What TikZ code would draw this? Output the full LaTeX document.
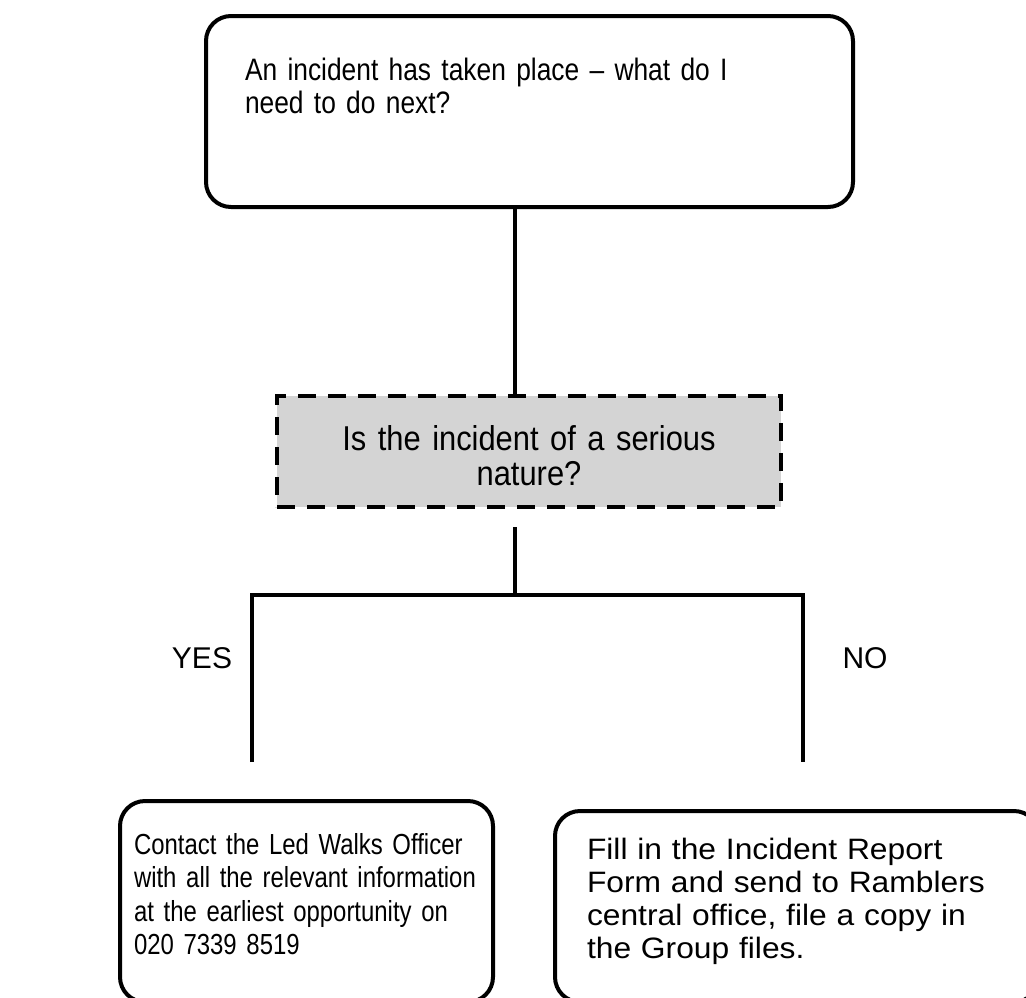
\documentclass[tikz,border=0pt]{standalone}
\usepackage{fontspec}
\setmainfont{Liberation Sans}
\newfontfamily\topfont{Liberation Sans}[FakeStretch=0.85]
\newfontfamily\askfont{Liberation Sans}[FakeStretch=0.895]
\newfontfamily\leftfont{Liberation Sans}[FakeStretch=0.825]
\newfontfamily\rightfont{Liberation Sans}[FakeStretch=1.077]
\usetikzlibrary{calc}
\definecolor{questiongrey}{RGB}{212,212,212}

\begin{document}
\begin{tikzpicture}[x=1pt, y=-1pt,
        roundbox/.style={draw, line width=4pt, rounded corners=25pt, anchor=north west, inner ysep=0pt, align=left},
        askbox/.style={draw, line width=4pt, dash pattern=on 18pt off 12pt, fill=questiongrey, anchor=north west, inner sep=0pt, align=center},
        link/.style={line width=4pt}]
    \useasboundingbox (0, 0) rectangle (1026, 997);
    \clip (0, 0) rectangle (1026, 997);

    \node[roundbox, inner xsep=39pt, text width=569pt, text height=64pt, text depth=127pt,
          font=\topfont\fontsize{31pt}{33pt}\selectfont] (incident) at (204, 14)
          {An incident has taken place – what do I\\ need to do next?};
    \node[askbox, text width=504pt, text height=54pt, text depth=57pt,
          font=\askfont\fontsize{34.5pt}{35pt}\selectfont] (serious) at (275, 394)
          {Is the incident of a serious\\ nature?};
    \node[roundbox, inner xsep=14pt, text width=345pt, text height=53pt, text depth=148pt,
          font=\leftfont\fontsize{29pt}{33.5pt}\selectfont] (contact) at (118, 799)
          {Contact the Led Walks Officer\\ with all the relevant information\\ at the earliest opportunity on\\ 020 7339 8519};
    \node[roundbox, inner xsep=32pt, text width=420pt, text height=48pt, text depth=143pt,
          font=\rightfont\fontsize{29.5pt}{33.3pt}\selectfont] (report) at (553, 809)
          {Fill in the Incident Report\\ Form and send to Ramblers\\ central office, file a copy in\\ the Group files.};

    \node[anchor=base, font=\fontsize{30pt}{34pt}\selectfont] (yes) at (202, 668) {YES};
    \node[anchor=base, font=\fontsize{30pt}{34pt}\selectfont] (no) at (865, 668) {NO};

    \coordinate (split) at (515, 595);
    \coordinate (yesend) at (252, 762);
    \coordinate (noend) at (803, 762);

    \draw[link] (incident.south -| split) -- (serious.north -| split);
    \draw[link] ($(serious.south -| split)+(0, 18)$) -- (split);
    \draw[link] (yesend) -- (yesend |- split) -- (noend |- split) -- (noend);

\end{tikzpicture}
\end{document}
